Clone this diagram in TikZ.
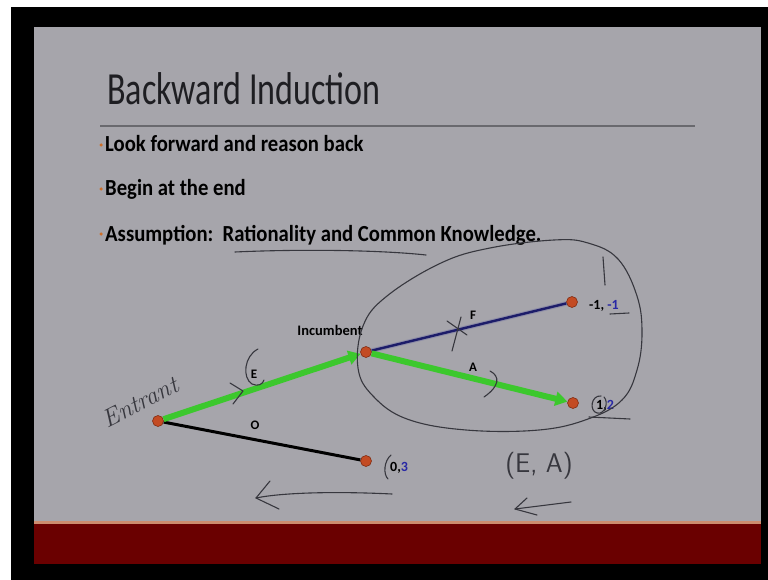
\documentclass[tikz,border=0pt]{standalone}
\usepackage{fontspec}
\newfontfamily\calfont[FakeStretch=0.9]{Carlito}
\newfontfamily\labelfont{Carlito}
\newfontfamily\titlefont[FakeStretch=0.74]{Carlito}
\usetikzlibrary{arrows.meta}
\definecolor{slidegray}{RGB}{166,165,171}
\definecolor{bandred}{RGB}{106,0,0}
\definecolor{peach}{RGB}{205,140,110}
\definecolor{titleink}{RGB}{30,30,34}
\definecolor{rulegray}{RGB}{105,105,110}
\definecolor{bulletorange}{RGB}{205,110,40}
\definecolor{dotorange}{RGB}{195,75,35}
\definecolor{dotdark}{RGB}{130,45,20}
\definecolor{edgegreen}{RGB}{60,200,45}
\definecolor{edgenavy}{RGB}{28,28,105}
\definecolor{payblue}{RGB}{40,40,165}
\definecolor{ink}{RGB}{55,55,62}
\tikzset{
  dot/.style={circle, fill=dotorange, draw=dotdark, line width=0.6pt, inner sep=0pt, minimum size=11pt},
  bullettext/.style={anchor=base west, inner sep=0pt, text=black, font=\calfont\bfseries\fontsize{23}{26}\selectfont},
  bulletdot/.style={circle, fill=bulletorange, inner sep=0pt, minimum size=3.5pt},
  greenedge/.style={draw=edgegreen, line width=6pt, -{Triangle[length=12pt,width=14pt]}},
  treelabel/.style={inner sep=0pt, text=black, font=\labelfont\bfseries\fontsize{13}{15}\selectfont},
  payoff/.style={anchor=base west, inner sep=0pt, text=black, font=\labelfont\bfseries\fontsize{14}{16}\selectfont},
  hand/.style={draw=ink, line width=1.1pt, line cap=round, line join=round},
}
\begin{document}
\begin{tikzpicture}[x=1pt,y=-1pt]
\useasboundingbox (0,0) rectangle (768,580);
% frame and slide
\fill[white] (0,0) rectangle (768,580);
\fill[black] (11,7) rectangle (768,580);
\fill[slidegray] (34,27) rectangle (761,523);
\fill[bandred] (34,523) rectangle (761,564);
\fill[peach] (34,520.5) rectangle (761,523.5);
% title
\node[anchor=base west, inner sep=0pt, text=titleink, font=\titlefont\fontsize{46}{48}\selectfont] (title) at (107,105) {Backward Induction};
\draw[rulegray, line width=2.5pt] (100,126) -- (695,126);
% bullets
\node[bulletdot] (d1) at (101,145) {};
\node[bullettext] (b1) at (105,152) {Look forward and reason back};
\node[bulletdot] (d2) at (101,189) {};
\node[bullettext] (b2) at (105,196) {Begin at the end};
\node[bulletdot] (d3) at (101,234) {};
\node[bullettext] (b3) at (105,241) {Assumption:\ \ Rationality and Common Knowledge.};
% tree nodes
\node[dot] (ent) at (158,421) {};
\node[dot] (inc) at (366,352) {};
\node[dot] (tf) at (572,302) {};
\node[dot] (ta) at (573,403) {};
\node[dot] (to) at (366,461) {};
% edges
\draw[black, line width=3pt] (ent) -- (to);
\draw[edgenavy!60!white, line width=4.5pt, opacity=0.5] (inc) -- (tf);
\draw[edgenavy, line width=2.4pt] (inc) -- (tf);
\draw[greenedge] (ent) -- (inc);
\draw[greenedge] (inc) -- (ta);
% labels
\node[treelabel, font=\labelfont\bfseries\fontsize{14.5}{16}\selectfont] (inclbl) at (330,330) {Incumbent};
\node[treelabel] (le) at (254,374) {E};
\node[treelabel] (lo) at (255,425) {O};
\node[treelabel] (lf) at (473,315) {F};
\node[treelabel] (la) at (473,367) {A};
\node[payoff] (pf) at (589,309) {-1, \textcolor{payblue}{-1}};
\node[payoff] (pa) at (596,409) {1,\textcolor{payblue}{2}};
\node[payoff] (po) at (390,471) {0,\textcolor{payblue}{3}};
% handwriting
\node[rotate=27, inner sep=0pt, text=ink, font=\itshape\fontsize{25}{27}\selectfont] (entrant) at (140,402) {Entrant};
\node[inner sep=0pt, text=ink, font=\sffamily\fontsize{27}{30}\selectfont] (ea) at (539,466) {(E, A)};
\draw[hand] (235,252) .. controls (300,249) and (380,250) .. (426,255);
\draw[hand] plot[smooth cycle, tension=0.65] coordinates {(358,368) (363,326) (387,296) (441,263) (490,248) (554,240) (588,243) (618,259) (637,296) (642,333) (637,370) (622,400) (588,419) (539,430) (466,430) (407,419) (373,396)};
\draw[hand] (603,257) -- (605,285);
\draw[hand] (447,321) -- (467,335);
\draw[hand] (461,317) -- (452,351);
\draw[hand] (230,383) -- (243,391) -- (233,404);
\draw[hand] (258,349) .. controls (244,356) and (242,378) .. (252,384) .. controls (258,387) and (263,384) .. (264,380);
\draw[hand] (490,371) .. controls (500,376) and (500,386) .. (484,397);
\draw[hand] (601,396) .. controls (591,395) and (589,411) .. (597,413) .. controls (605,415) and (609,402) .. (604,397);
\draw[hand] (589,417) -- (630,419);
\draw[hand] (610,314) -- (629,313);
\draw[hand] (391,455) .. controls (384,461) and (383,474) .. (388,479);
% bottom arrows
\draw[hand] (392,494) .. controls (330,491) and (280,493) .. (256,498);
\draw[hand] (270,481) -- (256,498) -- (279,509);
\draw[hand] (571,502) -- (515,509);
\draw[hand] (527,498) -- (515,509) -- (537,515);
\end{tikzpicture}
\end{document}
